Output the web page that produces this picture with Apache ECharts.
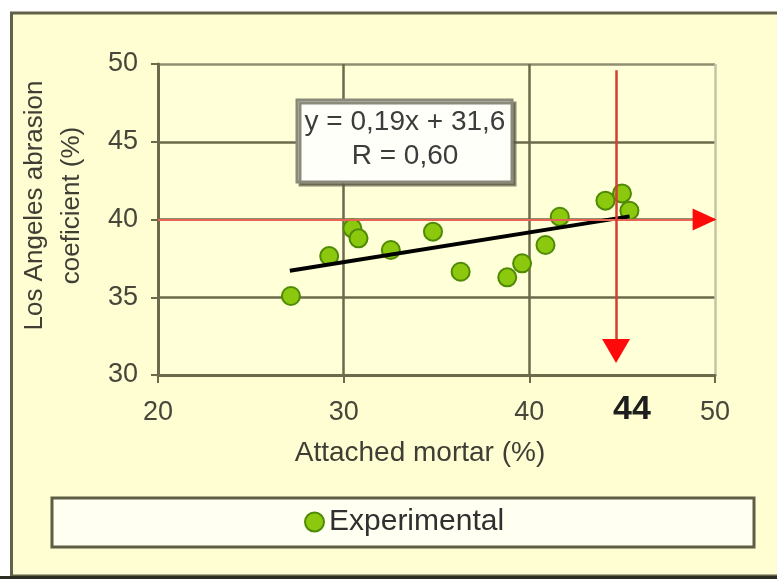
<!DOCTYPE html>
<html>
<head>
<meta charset="utf-8">
<script src="https://cdn.jsdelivr.net/npm/echarts@6/dist/echarts.min.js"></script>
<style>html,body{margin:0;padding:0;background:#fff}#c{width:777px;height:579px}</style>
</head>
<body>
<div id="c"></div>
<script>
// ---- data ----
const seriesName = 'Experimental';
const mortarX = [27.16, 29.22, 30.47, 30.80, 32.54, 34.81, 36.30, 38.81, 39.61, 40.87, 41.64, 44.10, 44.99, 45.39];
const abrasionY = [35.08, 37.65, 39.43, 38.79, 38.04, 39.22, 36.64, 36.28, 37.18, 38.36, 40.18, 41.21, 41.68, 40.57];
const trendX = [27.1, 45.4];
const trendY = [36.7, 40.2];
const xTicks = [20, 30, 40, 50];
const yTicks = [30, 35, 40, 45, 50];
const refLevelY = 40;          // horizontal red reference
const refLevelXStart = 20;
const refLevelXEnd = 49.44;    // arrow head centre
const refVertX = 44.67;        // vertical red reference
const refVertYStart = 49.6;
const refVertYEnd = 31.54;     // arrow head centre
const equationLines = ['y = 0,19x + 31,6', 'R = 0,60'];
const markedValue = '44';
const xName = 'Attached mortar (%)';
const yName = 'Los Angeles abrasion\ncoeficient (%)';

const pts = mortarX.map((x, i) => [x, abrasionY[i]]);
const trend = trendX.map((x, i) => [x, trendY[i]]);
const FONT = 'Liberation Sans, Arial, sans-serif';
const dark = '#6b6b4b';

const chart = echarts.init(document.getElementById('c'), null, {renderer: 'canvas'});
chart.setOption({
  animation: false,
  backgroundColor: '#FFFDD2',
  textStyle: {fontFamily: FONT},
  grid: {left: 158, right: 62, top: 64, bottom: 204, show: true, backgroundColor: '#FFFFD8', borderWidth: 0},
  xAxis: {
    type: 'value', min: xTicks[0], max: xTicks[xTicks.length - 1], interval: 10,
    name: xName, nameLocation: 'middle', nameGap: 64,
    nameTextStyle: {fontSize: 28, color: '#3e3e34', fontFamily: FONT, padding: [0, 33, 0, 0]},
    axisLine: {show: true, lineStyle: {color: dark, width: 3}},
    axisTick: {show: true, length: 8, lineStyle: {color: dark, width: 2}},
    axisLabel: {fontSize: 27, color: '#46463a', margin: 24, fontFamily: FONT},
    splitLine: {show: true, lineStyle: {color: [dark, dark, dark, '#c4c4a4'], width: 2.5}}
  },
  yAxis: {
    type: 'value', min: yTicks[0], max: yTicks[yTicks.length - 1], interval: 5,
    name: yName, nameLocation: 'middle', nameRotate: 90, nameGap: 68,
    nameTextStyle: {fontSize: 26, lineHeight: 37, color: '#3e3e34', fontFamily: FONT, padding: [0, 0, 0, 28]},
    axisLine: {show: true, lineStyle: {color: dark, width: 3}},
    axisTick: {show: true, length: 7, lineStyle: {color: dark, width: 2}},
    axisLabel: {fontSize: 27, color: '#46463a', margin: 20, fontFamily: FONT},
    splitLine: {show: true, lineStyle: {color: [dark, dark, dark, dark, '#8f8f70'], width: 2.5}}
  },
  legend: {
    data: [seriesName], left: 304, top: 507, padding: 0,
    itemWidth: 19, itemHeight: 19, icon: 'circle',
    textStyle: {fontSize: 30, color: '#303030', fontFamily: FONT}
  },
  series: [
    {
      name: seriesName, type: 'scatter', data: pts, symbol: 'circle', symbolSize: 18, z: 3,
      itemStyle: {color: '#8cc90e', borderColor: '#4f8a05', borderWidth: 2, opacity: 1},
      markLine: {
        silent: true, symbol: ['none', 'none'], label: {show: false}, z: 5,
        data: [
          [
            {coord: [refLevelXStart, refLevelY], lineStyle: {color: '#ea6456', width: 2, type: 'solid'}},
            {coord: [refLevelXEnd, refLevelY], lineStyle: {color: '#ea6456', width: 2, type: 'solid'}}
          ],
          [
            {coord: [refVertX, refVertYStart], lineStyle: {color: '#d83c34', width: 2.5, type: 'solid'}},
            {coord: [refVertX, refVertYEnd], lineStyle: {color: '#d83c34', width: 2.5, type: 'solid'}}
          ]
        ]
      },
      markPoint: {
        silent: true, label: {show: false}, z: 6,
        data: [
          {coord: [refLevelXEnd, refLevelY], symbol: 'triangle', symbolRotate: -90, symbolSize: [22, 24], itemStyle: {color: '#ff0a0a'}},
          {coord: [refVertX, refVertYEnd], symbol: 'triangle', symbolRotate: 180, symbolSize: [28, 24], itemStyle: {color: '#ff0a0a'}}
        ]
      }
    },
    {
      name: 'trend', type: 'line', data: trend, symbol: 'none', z: 4,
      lineStyle: {color: '#000', width: 4}
    }
  ],
  graphic: [
    {type: 'rect', z: -1, shape: {x: 0, y: 0, width: 777, height: 12}, style: {fill: '#ffffff'}},
    {type: 'rect', z: -1, shape: {x: 0, y: 0, width: 10, height: 579}, style: {fill: '#ffffff'}},
    {type: 'rect', z: -1, shape: {x: 11.5, y: 13, width: 800, height: 563}, style: {fill: 'none', stroke: '#62624a', lineWidth: 3}},
    {type: 'rect', z: -1, shape: {x: 0, y: 576, width: 777, height: 3}, style: {fill: '#2c2c22'}},
    {type: 'rect', z: -1, shape: {x: 52, y: 498, width: 702, height: 49}, style: {fill: '#fffff2', stroke: '#5e5e44', lineWidth: 3}},
    {type: 'rect', z: 50, shape: {x: 297, y: 100, width: 215, height: 82},
      style: {fill: '#fffffa', stroke: '#8a8a7a', lineWidth: 3, shadowColor: 'rgba(90,90,70,0.7)', shadowOffsetX: 3, shadowOffsetY: 3, shadowBlur: 0}},
    {type: 'text', z: 51, x: 405, y: 105,
      style: {text: equationLines.join('\n'), font: '28px ' + FONT, fill: '#3c3c3c', textAlign: 'center', lineHeight: 34}},
    {type: 'text', z: 51, x: 632, y: 393,
      style: {text: markedValue, font: 'bold 34px ' + FONT, fill: '#1e1e1e', textAlign: 'center'}}
  ]
});
</script>
</body>
</html>
